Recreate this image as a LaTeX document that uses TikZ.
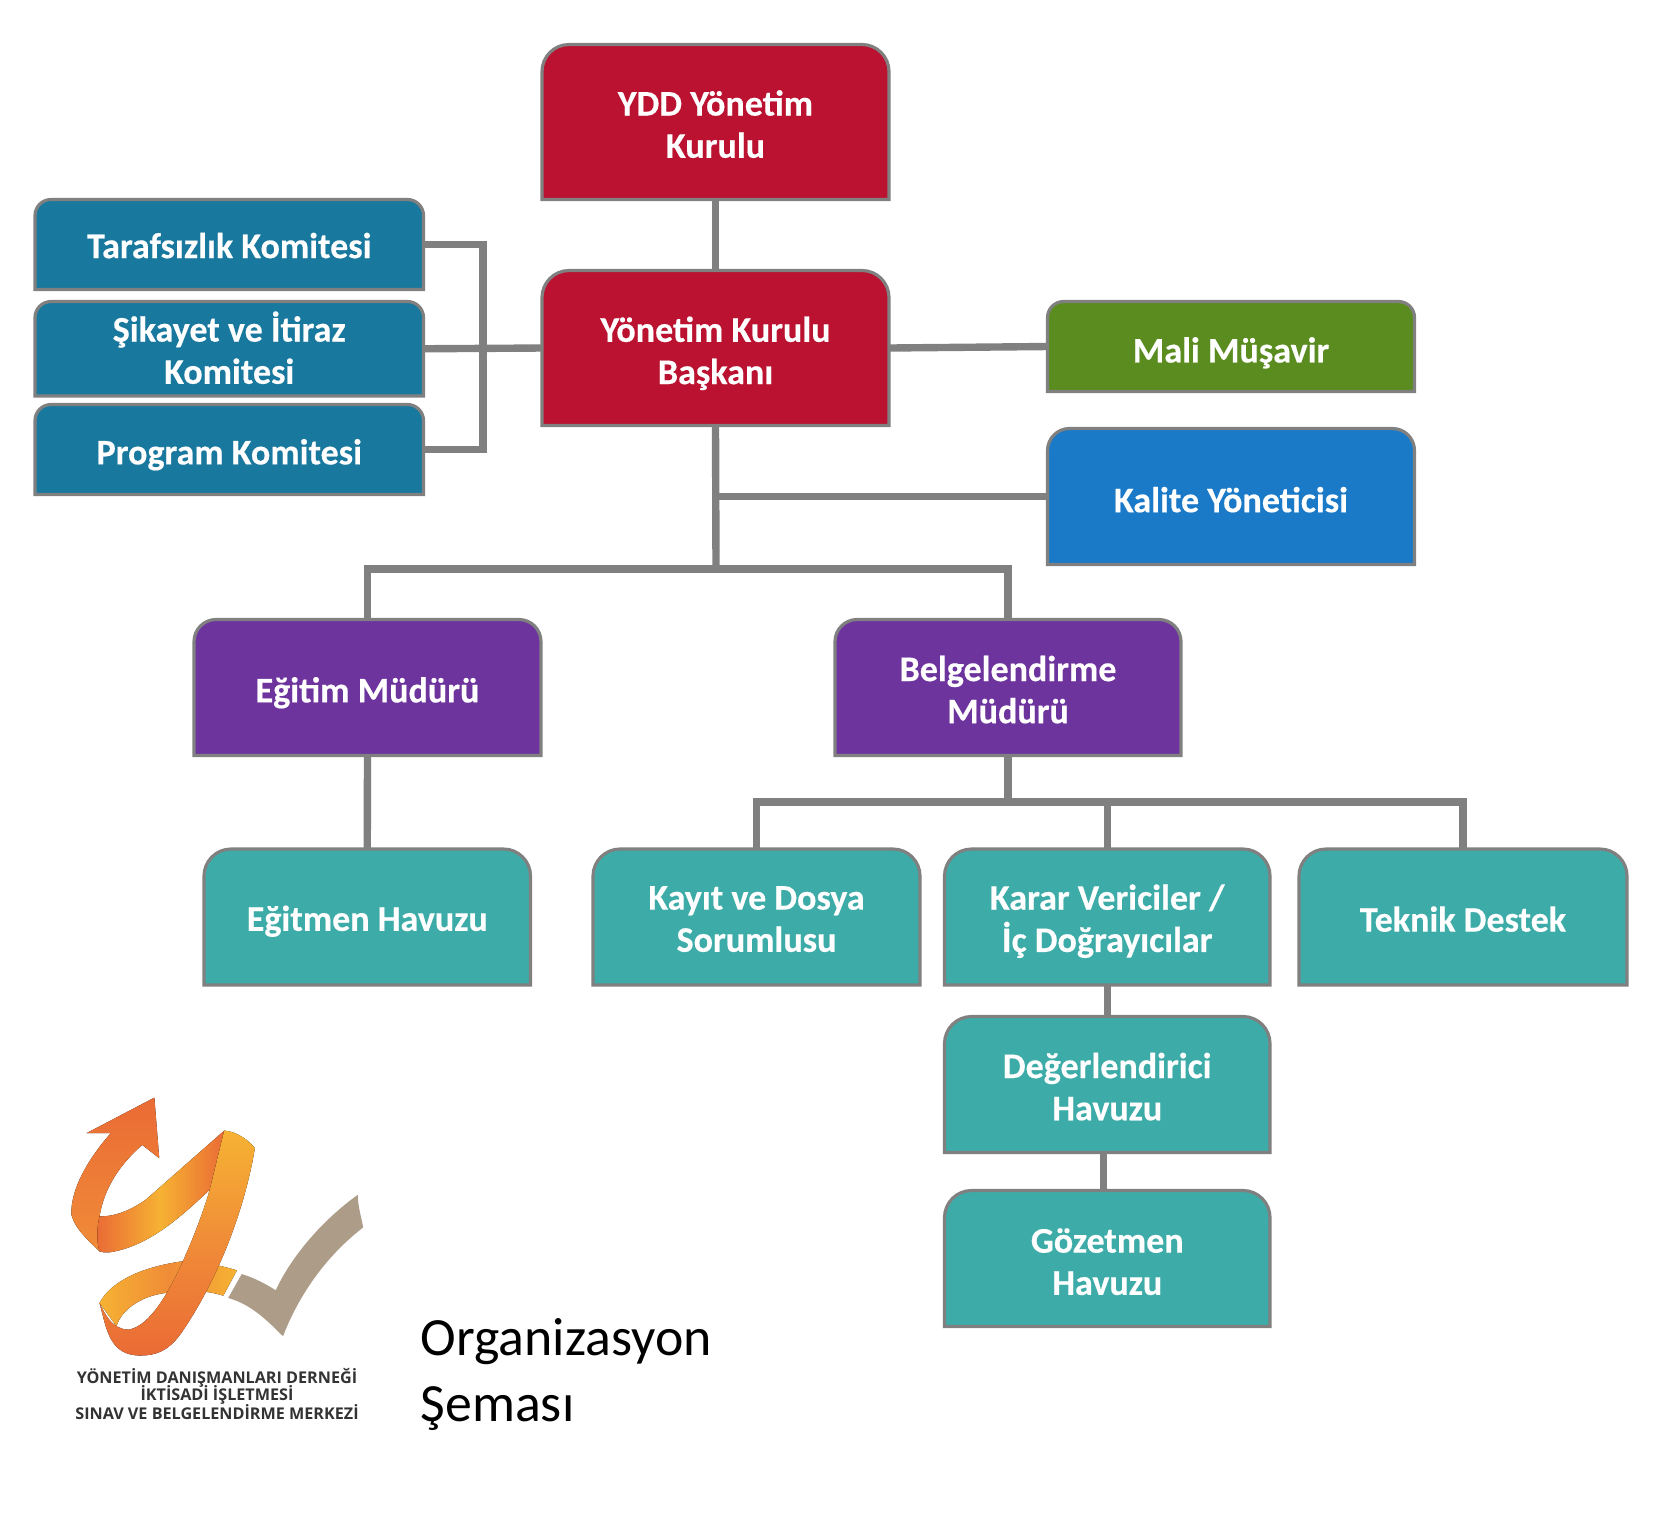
\documentclass[tikz,border=0pt]{standalone}
\usepackage{fontspec}
\usepackage{xcolor}
\usetikzlibrary{fit}
\setmainfont{Carlito}[BoldFeatures={FakeBold=0.35}]
\newfontfamily\logofont{Open Sans}

\definecolor{boardred}{HTML}{BA1230}
\definecolor{committeeblue}{HTML}{19789E}
\definecolor{advisorgreen}{HTML}{5B8C20}
\definecolor{qualityblue}{HTML}{1A7AC8}
\definecolor{managerpurple}{HTML}{6E349E}
\definecolor{poolteal}{HTML}{3DACA8}
\definecolor{linegray}{HTML}{808080}
\definecolor{logoyellow}{HTML}{F6B233}
\definecolor{logoorange}{HTML}{F08C38}
\definecolor{logored}{HTML}{EA6B35}
\definecolor{logotan}{HTML}{AD9D88}

\tikzset{
    boxframe/.style={inner sep=0pt, outer sep=0pt},
    boxline/.style={draw=linegray, line width=0.9pt},
    boxtext/.style={text=white, align=center, inner sep=0pt,
        font=\fontsize{10.25pt}{12pt}\selectfont\bfseries},
    boardbox/.style={boxline, fill=boardred},
    committeebox/.style={boxline, fill=committeeblue},
    advisorbox/.style={boxline, fill=advisorgreen},
    qualitybox/.style={boxline, fill=qualityblue},
    managerbox/.style={boxline, fill=managerpurple},
    poolbox/.style={boxline, fill=poolteal},
    link/.style={draw=linegray, line width=2.1pt},
    logotext/.style={text=black!80, inner sep=0pt,
        font=\logofont\fontsize{4.6pt}{5pt}\selectfont\bfseries},
}

% text nudge, style, corner radius, name, corners, text
\newcommand{\orgbox}[7][0]{
    \node [boxframe, fit={#5 #6}] (#4) {};
    \draw [#2] (#4.south west) [rounded corners=#3] -- (#4.north west)
        -- (#4.north east) [sharp corners] -- (#4.south east) -- cycle;
    \node [boxtext] (#4text) at ([yshift={-0.6pt-0.3pt*#1}]#4.center) {#7};
}

\begin{document}
\begin{tikzpicture}[x=0.01cm, y=-0.01cm]
    \useasboundingbox (0,0) rectangle (1664,1514);

    % Board
    \orgbox{boardbox}{0.27cm}{ydd}{(542,44.5)}{(889,199.5)}{YDD Yönetim\\Kurulu}
    \orgbox[3]{boardbox}{0.27cm}{chair}{(542,270.5)}{(889,425.5)}{Yönetim Kurulu\\Başkanı}

    % Committees
    \orgbox[-1]{committeebox}{0.16cm}{impartial}{(35,199.5)}{(423.5,289.5)}{Tarafsızlık Komitesi}
    \orgbox[-3]{committeebox}{0.16cm}{complaint}{(35,301.5)}{(423.5,396)}{Şikayet ve İtiraz\\Komitesi}
    \orgbox[3]{committeebox}{0.16cm}{program}{(35,404.5)}{(423.5,494.5)}{Program Komitesi}

    % Advisors
    \orgbox[4]{advisorbox}{0.16cm}{finance}{(1047.5,301.5)}{(1414.5,391.5)}{Mali Müşavir}
    \orgbox[1]{qualitybox}{0.22cm}{quality}{(1047.5,428.5)}{(1414.5,564.5)}{Kalite Yöneticisi}

    % Managers
    \orgbox[3]{managerbox}{0.22cm}{training}{(194,619.5)}{(541,755.5)}{Eğitim Müdürü}
    \orgbox{managerbox}{0.22cm}{certify}{(835,619.5)}{(1181,755.5)}{Belgelendirme\\Müdürü}

    % Pools
    \orgbox[2]{poolbox}{0.27cm}{trainers}{(204,849)}{(530.5,985)}{Eğitmen Havuzu}
    \orgbox{poolbox}{0.27cm}{records}{(593,849)}{(920,985)}{Kayıt ve Dosya\\Sorumlusu}
    \orgbox[2]{poolbox}{0.27cm}{deciders}{(944.5,849)}{(1270,985)}{Karar Vericiler /\\İç Doğrayıcılar}
    \orgbox{poolbox}{0.27cm}{support}{(1299,849)}{(1627,985)}{Teknik Destek}
    \orgbox{poolbox}{0.27cm}{assessors}{(944.5,1016.5)}{(1270,1152.5)}{Değerlendirici\\Havuzu}
    \orgbox[1]{poolbox}{0.27cm}{observers}{(944.5,1190.5)}{(1270,1326.5)}{Gözetmen\\Havuzu}

    % Connectors
    \coordinate (topbus) at (716,569);
    \coordinate (lowbus) at (1008,802);
    \coordinate (bracket) at (483,348);
    \draw [link] (ydd) -- (chair);
    \draw [link] (complaint.east) -- (chair.west);
    \draw [link] (impartial.east) -| (bracket) |- (program.east);
    \draw [link] (chair.east) -- (finance.west);
    \draw [link] (chair.south) -- (topbus);
    \draw [link] (quality.west) -- (quality.west -| chair.south);
    \draw [link] (training.north) |- (topbus) -| (certify.north);
    \draw [link] (training.south) -- (trainers.north);
    \draw [link] (certify.south) -- (lowbus);
    \draw [link] (records.north) |- (lowbus) -| (support.north);
    \draw [link] (deciders.north |- lowbus) -- (deciders.north);
    \draw [link] (deciders.south) -- (assessors.north);
    \draw [link] ([xshift=-1pt]assessors.south) -- ([xshift=-1pt]observers.north);

    % Title
    \node [inner sep=0pt, anchor=north west, align=left,
        font=\fontsize{15.3pt}{18.8pt}\selectfont] (title) at (420,1318) {Organizasyon\\Şeması};

    % Logo
    \begin{scope}[shift={(0,1060)}, x=0.00485cm, y=-0.00333cm]
        \fill [left color=logoyellow, right color=logoyellow, middle color=logoorange]
            (205,730) .. controls (230,660) and (300,620) .. (375,605)
            .. controls (410,605) and (450,615) .. (488,632) -- (460,708)
            .. controls (420,690) and (380,690) .. (340,700)
            .. controls (290,710) and (250,750) .. (240,800) -- cycle;
        \fill [top color=logored, bottom color=logoorange]
            (318,113) -- (178,220) -- (228,220)
            .. controls (180,300) and (145,390) .. (147,465)
            .. controls (155,510) and (185,545) .. (205,575) -- (205,470)
            .. controls (215,380) and (250,310) .. (293,255) -- (328,295) -- cycle;
        \fill [left color=logored, right color=logored, middle color=logoyellow]
            (205,470) .. controls (240,470) and (270,450) .. (300,420)
            -- (462,212) -- (432,390)
            .. controls (380,460) and (310,560) .. (225,578)
            .. controls (215,578) and (210,578) .. (205,575)
            .. controls (198,540) and (200,500) .. (205,470) -- cycle;
        \fill [top color=logoyellow, bottom color=logored, middle color=logoorange]
            (462,212) .. controls (490,215) and (515,245) .. (525,265)
            .. controls (510,400) and (470,590) .. (400,760)
            .. controls (370,830) and (350,888) .. (290,888)
            .. controls (225,888) and (220,810) .. (205,730)
            .. controls (215,760) and (230,810) .. (265,810)
            .. controls (310,800) and (350,690) .. (375,610)
            .. controls (400,530) and (420,450) .. (432,390) -- cycle;
        \fill [logotan]
            (498,643) .. controls (525,655) and (550,675) .. (568,692)
            .. controls (600,590) and (665,480) .. (737,405)
            .. controls (737,440) and (745,475) .. (748,503)
            .. controls (680,580) and (620,690) .. (583,830)
            .. controls (555,790) and (520,735) .. (470,715) -- cycle;
        \node [logotext] (logoline1) at (447,955) {YÖNETİM DANIŞMANLARI DERNEĞİ};
        \node [logotext] (logoline2) at (447,1005) {İKTİSADİ İŞLETMESİ};
        \node [logotext] (logoline3) at (447,1058) {SINAV VE BELGELENDİRME MERKEZİ};
    \end{scope}
\end{tikzpicture}
\end{document}
